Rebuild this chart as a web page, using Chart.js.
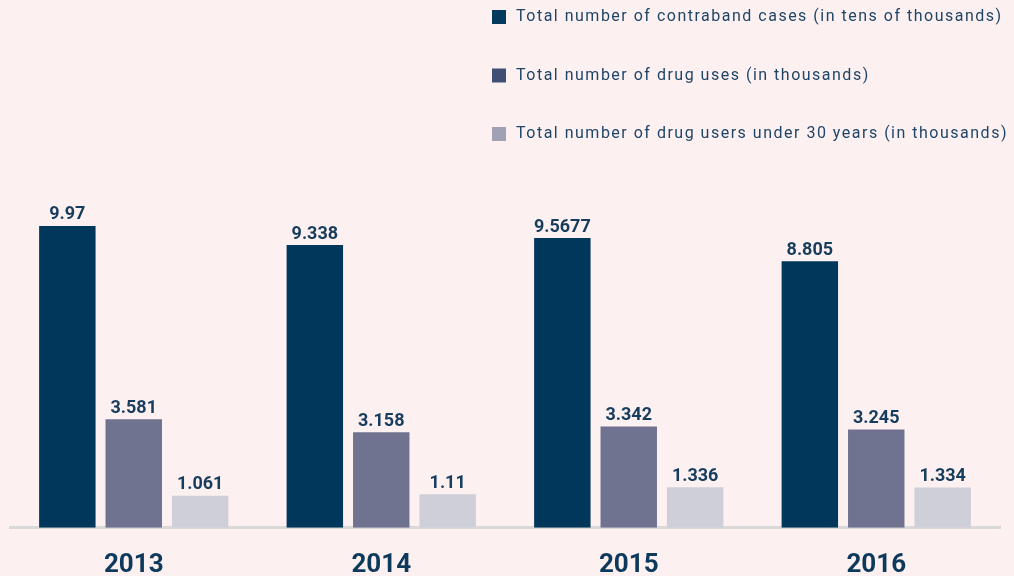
<!DOCTYPE html>
<html>
<head>
<meta charset="utf-8">
<script src="https://cdn.jsdelivr.net/npm/chart.js@4/dist/chart.umd.min.js"></script>
<style>
  html, body { margin: 0; padding: 0; background: #fdf0f0; }
  canvas { display: block; }
</style>
</head>
<body>
<canvas id="chart" width="1014" height="576"></canvas>
<script>
var years = ['2013', '2014', '2015', '2016'];
var contrabandCases = [9.97, 9.338, 9.5677, 8.805];
var drugUses = [3.581, 3.158, 3.342, 3.245];
var usersUnder30 = [1.061, 1.11, 1.336, 1.334];

var seriesNames = [
    'Total number of contraband cases (in tens of thousands)',
    'Total number of drug uses (in thousands)',
    'Total number of drug users under 30 years (in thousands)'
];
var barColors = ['#02375c', '#6f7390', '#cfcfd9'];
var legendColors = ['#033a5e', '#3f4e73', '#a0a1b5'];

// value labels above each bar
var valueLabels = {
    id: 'valueLabels',
    afterDatasetsDraw: function(chart) {
        var ctx = chart.ctx;
        ctx.save();
        ctx.font = 'bold 18px Roboto';
        ctx.fillStyle = '#163d5e';
        ctx.textAlign = 'center';
        ctx.textBaseline = 'bottom';
        chart.data.datasets.forEach(function(ds, i) {
            chart.getDatasetMeta(i).data.forEach(function(bar, j) {
                ctx.fillText(String(ds.data[j]), bar.x, bar.y - 2);
            });
        });
        ctx.restore();
    }
};

// stacked legend, one item per line, top right
var stackedLegend = {
    id: 'stackedLegend',
    afterDraw: function(chart) {
        var ctx = chart.ctx;
        ctx.save();
        ctx.font = '16px Roboto';
        ctx.letterSpacing = '1.5px';
        ctx.textBaseline = 'middle';
        ctx.textAlign = 'left';
        chart.data.datasets.forEach(function(ds, i) {
            var y = 17 + i * 58.5;
            ctx.fillStyle = legendColors[i];
            ctx.fillRect(492, y - 7, 14, 14);
            ctx.fillStyle = '#1e4567';
            ctx.fillText(ds.label, 516, y);
        });
        ctx.restore();
    }
};

var ctx = document.getElementById('chart').getContext('2d');
var myChart = new Chart(ctx, {
    type: 'bar',
    data: {
        labels: years,
        datasets: [
            { label: seriesNames[0], data: contrabandCases, backgroundColor: barColors[0] },
            { label: seriesNames[1], data: drugUses, backgroundColor: barColors[1] },
            { label: seriesNames[2], data: usersUnder30, backgroundColor: barColors[2] }
        ]
    },
    options: {
        responsive: false,
        animation: false,
        layout: { padding: { top: 225, left: 10, right: 14, bottom: -19 } },
        categoryPercentage: 0.805,
        barPercentage: 0.85,
        plugins: {
            legend: { display: false },
            tooltip: { enabled: false }
        },
        scales: {
            x: {
                grid: { display: false },
                border: { color: '#d9d9d9', width: 3 },
                ticks: {
                    color: '#0d3a5c',
                    font: { family: 'Roboto', size: 26, weight: 'bold' },
                    padding: 14
                }
            },
            y: {
                display: false,
                min: 0,
                max: 10
            }
        }
    },
    plugins: [valueLabels, stackedLegend]
});
</script>
</body>
</html>
